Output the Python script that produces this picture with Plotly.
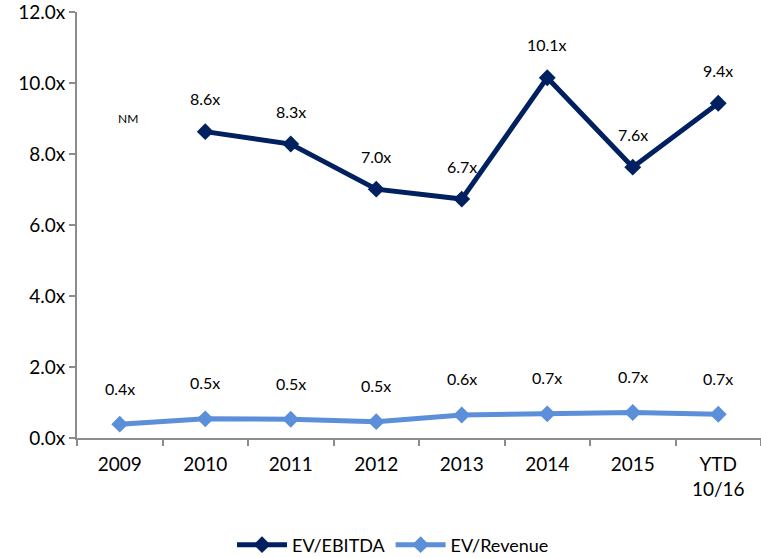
import plotly.graph_objects as go

categories = ["2009", "2010", "2011", "2012", "2013", "2014", "2015", "YTD<br>10/16"]
ev_ebitda = [None, 8.63, 8.28, 7.01, 6.73, 10.15, 7.63, 9.43]
ev_ebitda_labels = ["NM", "8.6x", "8.3x", "7.0x", "6.7x", "10.1x", "7.6x", "9.4x"]
ev_revenue = [0.39, 0.54, 0.53, 0.46, 0.65, 0.68, 0.72, 0.67]
ev_revenue_labels = ["0.4x", "0.5x", "0.5x", "0.5x", "0.6x", "0.7x", "0.7x", "0.7x"]
y_ticks = [0, 2, 4, 6, 8, 10, 12]

FONT = "Lato, Carlito, Calibri, sans-serif"
navy = "#002060"
blue = "#5B8FD9"
axis_grey = "#8c8c8c"

fig = go.Figure()
fig.add_trace(go.Scatter(
    x=categories, y=ev_ebitda, name="EV/EBITDA", mode="lines+markers",
    line=dict(color=navy, width=5), marker=dict(symbol="diamond", size=13, color=navy),
    connectgaps=False,
))
fig.add_trace(go.Scatter(
    x=categories, y=ev_revenue, name="EV/Revenue", mode="lines+markers",
    line=dict(color=blue, width=5), marker=dict(symbol="diamond", size=13, color=blue),
))

annotations = []
for i, (v, t) in enumerate(zip(ev_ebitda, ev_ebitda_labels)):
    if v is None:
        annotations.append(dict(x=i, y=9.0, text=t, showarrow=False, xshift=8,
                                font=dict(family=FONT, size=12, color="black")))
    else:
        annotations.append(dict(x=i, y=v, text=t, showarrow=False, yshift=33,
                                font=dict(family=FONT, size=16, color="black")))
for i, (v, t) in enumerate(zip(ev_revenue, ev_revenue_labels)):
    annotations.append(dict(x=i, y=v, text=t, showarrow=False, yshift=36,
                            font=dict(family=FONT, size=16, color="black")))

fig.update_layout(
    width=761, height=558,
    margin=dict(l=77, r=0, t=12, b=120, autoexpand=False),
    paper_bgcolor="white", plot_bgcolor="white",
    font=dict(family=FONT, size=19, color="black"),
    showlegend=True,
    legend=dict(orientation="h", x=0.462, xanchor="center", y=-0.251, yanchor="middle",
                font=dict(family=FONT, size=18), itemwidth=50, tracegroupgap=0),
    annotations=annotations,
    xaxis=dict(type="category", range=[-0.5, len(categories) - 0.5], showgrid=False,
               showline=True, linecolor=axis_grey, linewidth=2, automargin=False,
               ticks="outside", tickson="boundaries", ticklen=6, tickcolor=axis_grey, tickwidth=2,
               tickangle=0, tickfont=dict(family=FONT, size=19), ticklabeloverflow="allow",
               ticklabelstandoff=8),
    yaxis=dict(range=[0, 12], tickvals=y_ticks, ticktext=[f"{v:.1f}x" for v in y_ticks],
               showgrid=False, showline=True, linecolor=axis_grey, linewidth=2, automargin=False,
               ticks="outside", ticklen=6, tickcolor=axis_grey, tickwidth=2, zeroline=False,
               tickfont=dict(family=FONT, size=19), ticklabeloverflow="allow"),
)

fig.write_html(
    "out.html",
    config={"displayModeBar": False},
    post_script="document.body.style.margin='0';document.body.style.overflow='hidden';",
)
